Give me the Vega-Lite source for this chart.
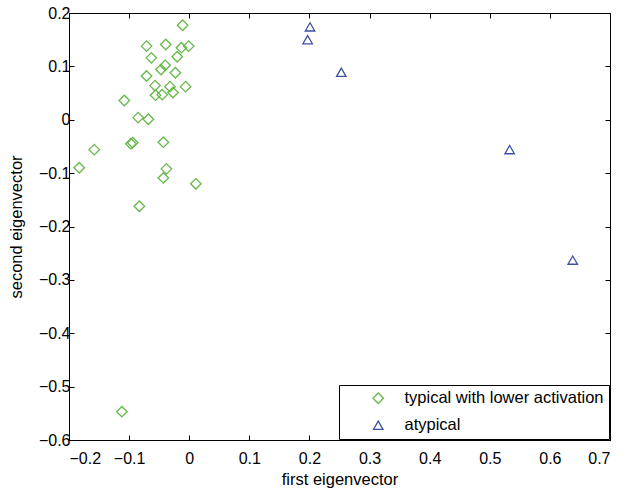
{
  "$schema": "https://vega.github.io/schema/vega-lite/v6.json",
  "autosize": {"type": "none"},
  "padding": {"left": 69, "top": 13, "right": 19, "bottom": 52},
  "width": 541,
  "height": 427,
  "background": "white",
  "config": {
    "font": "Liberation Sans",
    "view": {"stroke": "black", "strokeWidth": 1},
    "axis": {
      "grid": false,
      "domainColor": "black",
      "tickColor": "black",
      "labelColor": "black",
      "titleColor": "black",
      "labelFontSize": 16,
      "titleFontSize": 16.5,
      "titleFontWeight": "normal",
      "tickSize": -5,
      "labelFont": "Liberation Sans",
      "titleFont": "Liberation Sans"
    }
  },
  "data": {
    "values": [
      {"x": -0.011, "y": 0.177, "group": "typical with lower activation"},
      {"x": -0.071, "y": 0.138, "group": "typical with lower activation"},
      {"x": -0.039, "y": 0.141, "group": "typical with lower activation"},
      {"x": -0.013, "y": 0.135, "group": "typical with lower activation"},
      {"x": -0.001, "y": 0.138, "group": "typical with lower activation"},
      {"x": -0.063, "y": 0.116, "group": "typical with lower activation"},
      {"x": -0.020, "y": 0.118, "group": "typical with lower activation"},
      {"x": -0.040, "y": 0.102, "group": "typical with lower activation"},
      {"x": -0.047, "y": 0.094, "group": "typical with lower activation"},
      {"x": -0.023, "y": 0.088, "group": "typical with lower activation"},
      {"x": -0.071, "y": 0.082, "group": "typical with lower activation"},
      {"x": -0.057, "y": 0.064, "group": "typical with lower activation"},
      {"x": -0.006, "y": 0.062, "group": "typical with lower activation"},
      {"x": -0.032, "y": 0.062, "group": "typical with lower activation"},
      {"x": -0.056, "y": 0.046, "group": "typical with lower activation"},
      {"x": -0.045, "y": 0.047, "group": "typical with lower activation"},
      {"x": -0.027, "y": 0.051, "group": "typical with lower activation"},
      {"x": -0.108, "y": 0.036, "group": "typical with lower activation"},
      {"x": -0.085, "y": 0.004, "group": "typical with lower activation"},
      {"x": -0.068, "y": 0.001, "group": "typical with lower activation"},
      {"x": -0.094, "y": -0.043, "group": "typical with lower activation"},
      {"x": -0.097, "y": -0.045, "group": "typical with lower activation"},
      {"x": -0.043, "y": -0.042, "group": "typical with lower activation"},
      {"x": -0.158, "y": -0.056, "group": "typical with lower activation"},
      {"x": -0.183, "y": -0.090, "group": "typical with lower activation"},
      {"x": -0.038, "y": -0.092, "group": "typical with lower activation"},
      {"x": -0.043, "y": -0.109, "group": "typical with lower activation"},
      {"x": 0.011, "y": -0.120, "group": "typical with lower activation"},
      {"x": -0.083, "y": -0.162, "group": "typical with lower activation"},
      {"x": -0.112, "y": -0.547, "group": "typical with lower activation"},
      {"x": 0.201, "y": 0.174, "group": "atypical"},
      {"x": 0.197, "y": 0.150, "group": "atypical"},
      {"x": 0.253, "y": 0.089, "group": "atypical"},
      {"x": 0.533, "y": -0.056, "group": "atypical"},
      {"x": 0.638, "y": -0.263, "group": "atypical"}
    ]
  },
  "layer": [
    {
      "mark": {"type": "point", "filled": false, "strokeWidth": 1.3, "opacity": 1},
      "encoding": {
        "x": {
          "field": "x", "type": "quantitative",
          "scale": {"domain": [-0.2, 0.7], "nice": false, "zero": false},
          "axis": {"values": [-0.2, -0.1, 0, 0.1, 0.2, 0.3, 0.4, 0.5, 0.6, 0.7], "format": "~g", "title": "first eigenvector", "labelPadding": 15, "titlePadding": 5}
        },
        "y": {
          "field": "y", "type": "quantitative",
          "scale": {"domain": [-0.6, 0.2], "nice": false, "zero": false},
          "axis": {"values": [-0.6, -0.5, -0.4, -0.3, -0.2, -0.1, 0, 0.1, 0.2], "format": "~g", "title": "second eigenvector", "labelPadding": 4, "titlePadding": 14}
        },
        "color": {
          "field": "group", "type": "nominal",
          "scale": {"domain": ["typical with lower activation", "atypical"], "range": ["#66b84a", "#3c50a0"]},
          "legend": {
            "title": null,
            "orient": "bottom-right",
            "offset": 1,
            "strokeColor": "black",
            "fillColor": "white",
            "padding": 5,
            "labelFontSize": 16.5,
            "labelLimit": 400,
            "labelColor": "black",
            "labelFont": "Liberation Sans",
            "symbolStrokeWidth": 1.3,
            "symbolSize": 100,
            "symbolOffset": 26,
            "labelOffset": 18,
            "rowPadding": 10,
            "cornerRadius": 0
          }
        },
        "shape": {
          "field": "group", "type": "nominal",
          "scale": {"domain": ["typical with lower activation", "atypical"], "range": ["diamond", "triangle-up"]},
          "legend": null
        },
        "size": {
          "field": "group", "type": "nominal",
          "scale": {"domain": ["typical with lower activation", "atypical"], "range": [110, 90]},
          "legend": null
        }
      }
    },
    {
      "mark": {"type": "point", "opacity": 0},
      "encoding": {
        "x": {"field": "x", "type": "quantitative", "axis": {"orient": "top", "values": [-0.2, -0.1, 0, 0.1, 0.2, 0.3, 0.4, 0.5, 0.6, 0.7], "labels": false, "title": null, "domain": false}},
        "y": {"field": "y", "type": "quantitative", "axis": {"orient": "right", "values": [-0.6, -0.5, -0.4, -0.3, -0.2, -0.1, 0, 0.1, 0.2], "labels": false, "title": null, "domain": false}}
      }
    }
  ],
  "resolve": {"axis": {"x": "independent", "y": "independent"}}
}
